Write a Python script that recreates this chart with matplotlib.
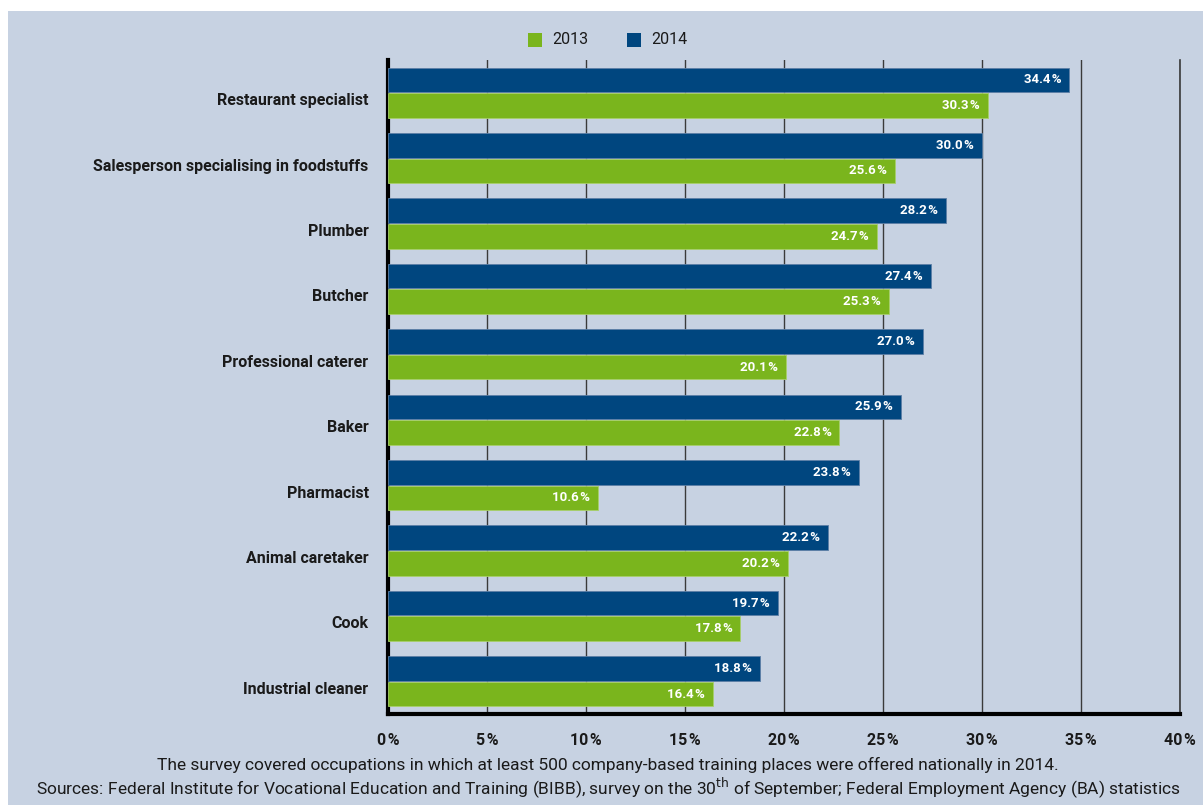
import matplotlib.pyplot as plt
from matplotlib.patches import Rectangle
from matplotlib.ticker import MultipleLocator, FuncFormatter
import numpy as np

# data
occupations = ['Restaurant specialist', 'Salesperson specialising in foodstuffs', 'Plumber',
               'Butcher', 'Professional caterer', 'Baker', 'Pharmacist', 'Animal caretaker',
               'Cook', 'Industrial cleaner']
share_2014 = [34.4, 30.0, 28.2, 27.4, 27.0, 25.9, 23.8, 22.2, 19.7, 18.8]
share_2013 = [30.3, 25.6, 24.7, 25.3, 20.1, 22.8, 10.6, 20.2, 17.8, 16.4]

navy = '#00467f'
green = '#7ab51d'
panel = '#c7d2e2'
dark = '#1a1a1a'
fonts = ['Roboto', 'DejaVu Sans']

fig = plt.figure(figsize=(12.03, 8.05), dpi=100)
fig.patches.append(Rectangle((8 / 1203, 0), 1, 1 - 11 / 805, transform=fig.transFigure,
                             facecolor=panel, edgecolor='none', zorder=-10))

ax = fig.add_axes([388 / 1203, 1 - 714 / 805, (1180 - 388) / 1203, (714 - 60) / 805])
ax.set_facecolor('none')

y = np.arange(len(occupations))
h = 0.375
ax.barh(y - 0.195, share_2014, height=h, color=navy, edgecolor='#5c7fa6', linewidth=0.6, zorder=3)
ax.barh(y + 0.195, share_2013, height=h, color=green, edgecolor='#a8cf6a', linewidth=0.6, zorder=3)

for yi, v in zip(y, share_2014):
    ax.text(v - 0.4, yi - 0.195, f'{v:.1f}\u200a%', ha='right', va='center', color='white',
            fontsize=9.5, fontweight='bold', family=fonts, zorder=4)
for yi, v in zip(y, share_2013):
    ax.text(v - 0.4, yi + 0.195, f'{v:.1f}\u200a%', ha='right', va='center', color='white',
            fontsize=9.5, fontweight='bold', family=fonts, zorder=4)

ax.set_xlim(0, 40)
ax.set_ylim(9.5, -0.5)
ax.xaxis.set_major_locator(MultipleLocator(5))
ax.xaxis.set_major_formatter(FuncFormatter(lambda v, p: f'{v:.0f}\u200a%'))
ax.grid(axis='x', color='#3a3a3a', linewidth=1.0, zorder=0)
ax.set_yticks(y + 0.1)
ax.set_yticklabels(occupations)
ax.tick_params(axis='both', length=0, colors=dark)
ax.tick_params(axis='y', pad=14)
ax.tick_params(axis='x', pad=14)
for lab in ax.get_yticklabels() + ax.get_xticklabels():
    lab.set_family(fonts)
    lab.set_fontweight('bold')
    lab.set_fontsize(11.5)

ax.spines['top'].set_visible(False)
ax.spines['right'].set_color('#3a3a3a')
ax.spines['right'].set_linewidth(1.2)
ax.spines['left'].set_linewidth(3)
ax.spines['bottom'].set_linewidth(3)
ax.spines['left'].set_color('black')
ax.spines['bottom'].set_color('black')

# legend
leg_y = 1 - 40 / 805
fig.patches.append(Rectangle((528 / 1203, leg_y - 7 / 805), 14 / 1203, 14 / 805,
                             transform=fig.transFigure, facecolor=green, edgecolor='none'))
fig.text(552 / 1203, leg_y, '2013', ha='left', va='center', fontsize=11.5, color=dark, family=fonts)
fig.patches.append(Rectangle((627 / 1203, leg_y - 7 / 805), 14 / 1203, 14 / 805,
                             transform=fig.transFigure, facecolor=navy, edgecolor='none'))
fig.text(651 / 1203, leg_y, '2014', ha='left', va='center', fontsize=11.5, color=dark, family=fonts)

# footnotes
fig.text(608 / 1203, 1 - 765 / 805,
         'The survey covered occupations in which at least 500 company-based training places were offered nationally in 2014.',
         ha='center', va='center', fontsize=12.5, color=dark, family=fonts)
fig.text(608 / 1203, 1 - 788 / 805,
         'Sources: Federal Institute for Vocational Education and Training (BIBB), survey on the 30$^{\\mathrm{th}}$ of September; Federal Employment Agency (BA) statistics',
         ha='center', va='center', fontsize=12.5, color=dark, family=fonts)

fig.savefig('out.png', dpi=100)
